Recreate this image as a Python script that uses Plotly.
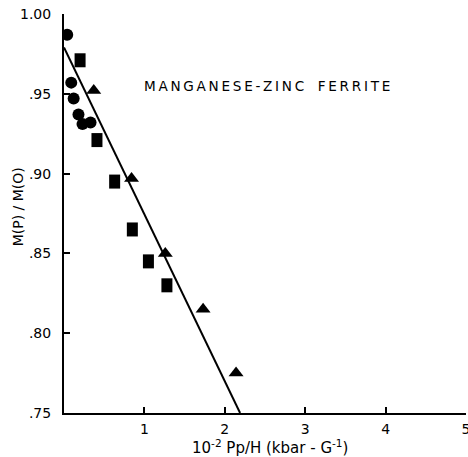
import plotly.graph_objects as go

# Data
circle_x = [0.04, 0.09, 0.12, 0.18, 0.23, 0.33]
circle_y = [0.987, 0.957, 0.947, 0.937, 0.931, 0.932]

square_x = [0.20, 0.41, 0.63, 0.85, 1.05, 1.28]
square_y = [0.971, 0.921, 0.895, 0.865, 0.845, 0.830]

triangle_x = [0.37, 0.84, 1.26, 1.73, 2.14]
triangle_y = [0.952, 0.897, 0.850, 0.815, 0.775]

fit_x = [0.0, 2.19]
fit_y = [0.979, 0.75]

x_tickvals = [1, 2, 3, 4, 5]
x_ticktext = ["1", "2", "3", "4", "5"]
y_tickvals = [0.75, 0.80, 0.85, 0.90, 0.95, 1.00]
y_ticktext = [".75", ".80", ".85", ".90", ".95", "1.00"]

FONT = "DejaVu Sans"
TS = "\u2009"
title_text = TS.join("MANGANESE-ZINC") + "\u2002\u2002" + TS.join("FERRITE")

fig = go.Figure()
fig.add_trace(go.Scatter(x=fit_x, y=fit_y, mode="lines",
                         line=dict(color="black", width=2), showlegend=False))
fig.add_trace(go.Scatter(x=circle_x, y=circle_y, mode="markers",
                         marker=dict(symbol="circle", size=12, color="black"), showlegend=False))
fig.add_trace(go.Scatter(x=square_x, y=square_y, mode="markers",
                         marker=dict(symbol="line-ns-open", size=10, color="black",
                                     line=dict(width=11, color="black")), showlegend=False))
fig.add_trace(go.Scatter(x=triangle_x, y=triangle_y, mode="markers",
                         marker=dict(symbol="triangle-up", size=13, color="black"), showlegend=False))

fig.add_annotation(x=2.52, y=0.955, xref="x", yref="y", text=title_text,
                   showarrow=False, font=dict(family=FONT, size=13.6, color="black"))
fig.add_annotation(x=-0.114, y=0.516, xref="paper", yref="paper", text="M(P) / M(O)",
                   textangle=-90, xanchor="center", yanchor="middle",
                   showarrow=False, font=dict(family=FONT, size=14, color="black"))
fig.add_annotation(x=0.512, y=-0.085, xref="paper", yref="paper",
                   text="10<sup>-2</sup> Pp/H (kbar - G<sup>-1</sup>)",
                   xanchor="center", yanchor="middle",
                   showarrow=False, font=dict(family=FONT, size=15, color="black"))

fig.update_xaxes(range=[0, 5], tickvals=x_tickvals, ticktext=x_ticktext,
                 showgrid=False, zeroline=False, showline=True, linecolor="black", linewidth=2,
                 ticks="inside", ticklen=6, tickwidth=2, tickcolor="black",
                 ticklabeloverflow="allow", ticklabelstandoff=2, automargin=False,
                 tickfont=dict(family=FONT, size=14, color="black"))
fig.update_yaxes(range=[0.75, 1.0], tickvals=y_tickvals, ticktext=y_ticktext,
                 showgrid=False, zeroline=False, showline=True, linecolor="black", linewidth=2,
                 ticks="inside", ticklen=6, tickwidth=2, tickcolor="black",
                 ticklabelstandoff=8, automargin=False,
                 tickfont=dict(family=FONT, size=14, color="black"))

fig.update_layout(width=468, height=457, margin=dict(l=64, r=2, t=14, b=44),
                  plot_bgcolor="white", paper_bgcolor="white")
fig.write_html("out.html")
